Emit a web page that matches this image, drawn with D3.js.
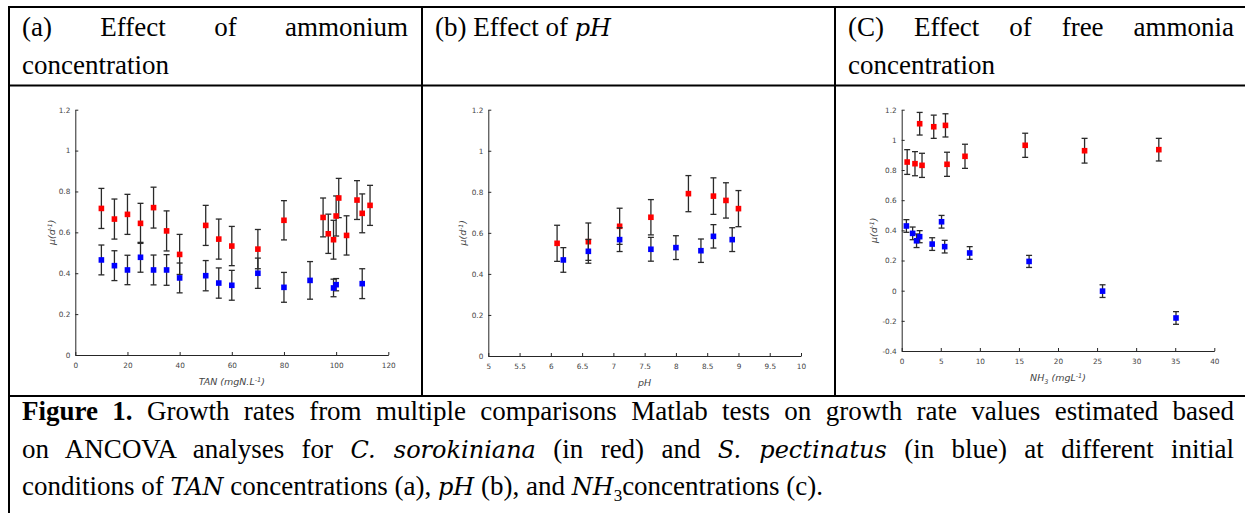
<!DOCTYPE html>
<html>
<head>
<meta charset="utf-8">
<script src="https://cdn.jsdelivr.net/npm/d3@7"></script>
<style>
  body { margin: 0; background: #fff; }
  #page { position: relative; width: 1245px; height: 513px; overflow: hidden;
    font-family: "Liberation Serif", "Times New Roman", serif; font-size: 27px; color: #000; }
  #page svg { position: absolute; left: 0; top: 0; }
  .txt { position: absolute; line-height: 37.5px; white-space: nowrap; }
  .just { text-align: justify; text-align-last: justify; white-space: normal; }
  .m { font-family: "DejaVu Serif", serif; font-style: italic; font-size: 24px; }
  .chart text { font-family: "DejaVu Sans", sans-serif; fill: #444; }
</style>
</head>
<body>
<div id="page"></div>
<script>
// (a) ammonium / TAN
const tanRedX = [10, 15, 20, 25, 30, 35, 40, 50, 55, 60, 70, 80, 95, 97, 99, 100, 101, 104, 108, 110, 113]
const tanRedMu = [0.717, 0.665, 0.688, 0.644, 0.721, 0.607, 0.492, 0.634, 0.567, 0.533, 0.518, 0.659, 0.673, 0.593, 0.564, 0.680, 0.768, 0.585, 0.758, 0.693, 0.732]
const tanRedErr = [0.098, 0.098, 0.098, 0.098, 0.100, 0.098, 0.098, 0.098, 0.098, 0.096, 0.096, 0.096, 0.095, 0.096, 0.095, 0.098, 0.096, 0.096, 0.095, 0.095, 0.098]
const tanBlueX = [10, 15, 20, 25, 30, 35, 40, 50, 55, 60, 70, 80, 90, 99, 100, 110]
const tanBlueMu = [0.465, 0.437, 0.416, 0.478, 0.416, 0.416, 0.377, 0.388, 0.352, 0.341, 0.400, 0.331, 0.365, 0.328, 0.344, 0.349]
const tanBlueErr = [0.073, 0.073, 0.072, 0.073, 0.073, 0.075, 0.073, 0.074, 0.074, 0.073, 0.074, 0.073, 0.092, 0.043, 0.030, 0.073]

// (b) pH
const phRedX = [6.1, 6.6, 7.1, 7.6, 8.2, 8.6, 8.8, 9.0]
const phRedMu = [0.549, 0.557, 0.632, 0.676, 0.791, 0.779, 0.758, 0.718]
const phRedErr = [0.088, 0.091, 0.088, 0.086, 0.088, 0.089, 0.086, 0.088]
const phBlueX = [6.2, 6.6, 7.1, 7.6, 8.0, 8.4, 8.6, 8.9]
const phBlueMu = [0.468, 0.510, 0.567, 0.520, 0.528, 0.513, 0.583, 0.567]
const phBlueErr = [0.060, 0.058, 0.058, 0.058, 0.058, 0.057, 0.057, 0.058]

// (c) free ammonia NH3
const nh3RedX = [0.7, 1.7, 2.3, 2.6, 4.1, 5.6, 5.8, 8.1, 15.8, 23.4, 32.9]
const nh3RedMu = [0.853, 0.842, 1.107, 0.831, 1.087, 1.096, 0.838, 0.891, 0.964, 0.928, 0.935]
const nh3RedErr = [0.082, 0.080, 0.075, 0.080, 0.077, 0.077, 0.080, 0.080, 0.080, 0.082, 0.075]
const nh3BlueX = [0.6, 1.4, 1.9, 2.3, 3.9, 5.1, 5.5, 8.7, 16.3, 25.7, 35.1]
const nh3BlueMu = [0.429, 0.380, 0.331, 0.358, 0.309, 0.457, 0.292, 0.250, 0.194, -0.003, -0.181]
const nh3BlueErr = [0.042, 0.042, 0.045, 0.040, 0.042, 0.042, 0.042, 0.042, 0.040, 0.042, 0.042]

// tick values
const tanTicks = [0, 20, 40, 60, 80, 100, 120]
const phTicks = [5, 5.5, 6, 6.5, 7, 7.5, 8, 8.5, 9, 9.5, 10]
const nh3Ticks = [0, 5, 10, 15, 20, 25, 30, 35, 40]
const muTicks = [0, 0.2, 0.4, 0.6, 0.8, 1, 1.2]
const muTicksNh3 = [-0.4, -0.2, 0, 0.2, 0.4, 0.6, 0.8, 1, 1.2]

const page = d3.select('#page')
const svg = page.append('svg').attr('width', 1245).attr('height', 513)

// table rules
const rules = [
  [8, 7, 1250, 7], [9, 6, 9, 513], [8, 85.5, 1250, 85.5], [8, 396, 1250, 396],
  [422, 6, 422, 396], [835, 6, 835, 396]
]
svg.append('g').selectAll('line')
  .data(rules)
  .enter().append('line')
  .attr('x1', d => d[0]).attr('y1', d => d[1])
  .attr('x2', d => d[2]).attr('y2', d => d[3])
  .style('stroke', '#000')
  .style('stroke-width', 2)

const fmt = d => String(Math.round(d * 100) / 100)

function drawSeries (g, x, y, xs, ys, errs, color) {
  const pts = xs.map((d, i) => ({ x: d, y: ys[i], e: errs[i] }))
  const bars = g.append('g').selectAll('g')
    .data(pts)
    .enter().append('g')
    .style('stroke', '#2a2a2a')
    .style('stroke-width', 1.3)
  bars.append('line')
    .attr('x1', d => x(d.x)).attr('x2', d => x(d.x))
    .attr('y1', d => y(d.y - d.e)).attr('y2', d => y(d.y + d.e))
  bars.append('line') // top cap
    .attr('x1', d => x(d.x) - 3).attr('x2', d => x(d.x) + 3)
    .attr('y1', d => y(d.y + d.e)).attr('y2', d => y(d.y + d.e))
  bars.append('line') // bottom cap
    .attr('x1', d => x(d.x) - 3).attr('x2', d => x(d.x) + 3)
    .attr('y1', d => y(d.y - d.e)).attr('y2', d => y(d.y - d.e))
  g.append('g').selectAll('rect')
    .data(pts)
    .enter().append('rect')
    .attr('x', d => x(d.x) - 2.8)
    .attr('y', d => y(d.y) - 2.8)
    .attr('width', 5.6)
    .attr('height', 5.6)
    .style('fill', color)
}

function panel ({ left, right, top, bottom, xDomain, xTicks, yDomain, yTicks, xLabel, yLabelX, red, blue }) {
  const x = d3.scaleLinear().domain(xDomain).range([left, right])
  const y = d3.scaleLinear().domain(yDomain).range([bottom, top])
  const g = svg.append('g').attr('class', 'chart')

  const xAxis = g.append('g')
    .attr('transform', `translate(0,${bottom})`)
    .call(d3.axisBottom(x).tickValues(xTicks).tickFormat(fmt)
      .tickSizeInner(-3).tickSizeOuter(0).tickPadding(8))
  const yAxis = g.append('g')
    .attr('transform', `translate(${left},0)`)
    .call(d3.axisLeft(y).tickValues(yTicks).tickFormat(fmt)
      .tickSizeInner(-3).tickSizeOuter(0).tickPadding(5))
  ;[xAxis, yAxis].forEach(a => {
    a.selectAll('path, line').style('stroke', '#262626')
    a.selectAll('text').style('font-size', '7.3px').style('fill', '#444')
  })

  // x label
  xLabel(g.append('text')
    .attr('x', (left + right) / 2)
    .attr('y', bottom + 30)
    .attr('text-anchor', 'middle')
    .style('font-size', '9.5px')
    .style('font-style', 'italic'))

  // y label  mu(d^-1)
  const yl = g.append('text')
    .attr('transform', `translate(${yLabelX},${(top + bottom) / 2}) rotate(-90)`)
    .attr('text-anchor', 'middle')
    .attr('dy', '0.35em')
    .style('font-size', '9.5px')
    .style('font-style', 'italic')
  yl.append('tspan').text('\u03bc(d')
  yl.append('tspan').attr('dy', -3).style('font-size', '6px').text('-1')
  yl.append('tspan').attr('dy', 3).text(')')

  drawSeries(g, x, y, red[0], red[1], red[2], '#ff0000')
  drawSeries(g, x, y, blue[0], blue[1], blue[2], '#0000ff')
}

function supLabel (main, sup, tail) {
  return t => {
    t.append('tspan').text(main)
    t.append('tspan').attr('dy', -3.5).style('font-size', '6.5px').text(sup)
    t.append('tspan').attr('dy', 3.5).text(tail)
  }
}

panel({
  left: 75.3, right: 388.3, top: 109.7, bottom: 355,
  xDomain: [0, 120], xTicks: tanTicks, yDomain: [0, 1.2], yTicks: muTicks,
  xLabel: supLabel('TAN (mgN.L', '-1', ')'), yLabelX: 52,
  red: [tanRedX, tanRedMu, tanRedErr], blue: [tanBlueX, tanBlueMu, tanBlueErr]
})

panel({
  left: 488.3, right: 801, top: 109.7, bottom: 356,
  xDomain: [5, 10], xTicks: phTicks, yDomain: [0, 1.2], yTicks: muTicks,
  xLabel: t => t.text('pH'), yLabelX: 463,
  red: [phRedX, phRedMu, phRedErr], blue: [phBlueX, phBlueMu, phBlueErr]
})

panel({
  left: 901.7, right: 1214.3, top: 109.7, bottom: 351,
  xDomain: [0, 40], xTicks: nh3Ticks, yDomain: [-0.4, 1.2], yTicks: muTicksNh3,
  xLabel: t => {
    t.append('tspan').text('NH')
    t.append('tspan').attr('dy', 2.5).style('font-size', '6.5px').text('3')
    t.append('tspan').attr('dy', -2.5).text(' (mgL')
    t.append('tspan').attr('dy', -3.5).style('font-size', '6.5px').text('-1')
    t.append('tspan').attr('dy', 3.5).text(')')
  },
  yLabelX: 874,
  red: [nh3RedX, nh3RedMu, nh3RedErr], blue: [nh3BlueX, nh3BlueMu, nh3BlueErr]
})

// header + caption text
const texts = [
  { left: 22, top: 9, width: 386, just: true, html: '(a) Effect of ammonium' },
  { left: 22, top: 47, width: 386, html: 'concentration' },
  { left: 435, top: 9, width: 386, html: '(b) Effect of <span class="m">pH</span>' },
  { left: 848, top: 9, width: 386, just: true, html: '(C) Effect of free ammonia' },
  { left: 848, top: 47, width: 386, html: 'concentration' },
  { left: 22, top: 393, width: 1212, just: true,
    html: '<b>Figure 1.</b> Growth rates from multiple comparisons Matlab tests on growth rate values estimated based' },
  { left: 22, top: 430.5, width: 1212, just: true,
    html: 'on ANCOVA analyses for <span class="m">C. sorokiniana</span> (in red) and <span class="m">S. pectinatus</span> (in blue) at different initial' },
  { left: 22, top: 468, width: 1212,
    html: 'conditions of <span class="m">TAN</span> concentrations (a), <span class="m">pH</span> (b), and <span class="m">NH</span><sub style="font-size:17px;line-height:0">3</sub>concentrations (c).' }
]

page.selectAll('div.txt')
  .data(texts)
  .enter().append('div')
  .attr('class', d => d.just ? 'txt just' : 'txt')
  .style('left', d => d.left + 'px')
  .style('top', d => d.top + 'px')
  .style('width', d => d.width + 'px')
  .html(d => d.html)
  .each(function () {
    // keep a justified line on one line: tighten letters if it wraps
    let ls = 0
    while (this.offsetHeight > 40 && ls > -2) {
      ls -= 0.1
      this.style.letterSpacing = ls + 'px'
    }
  })
</script>
</body>
</html>
